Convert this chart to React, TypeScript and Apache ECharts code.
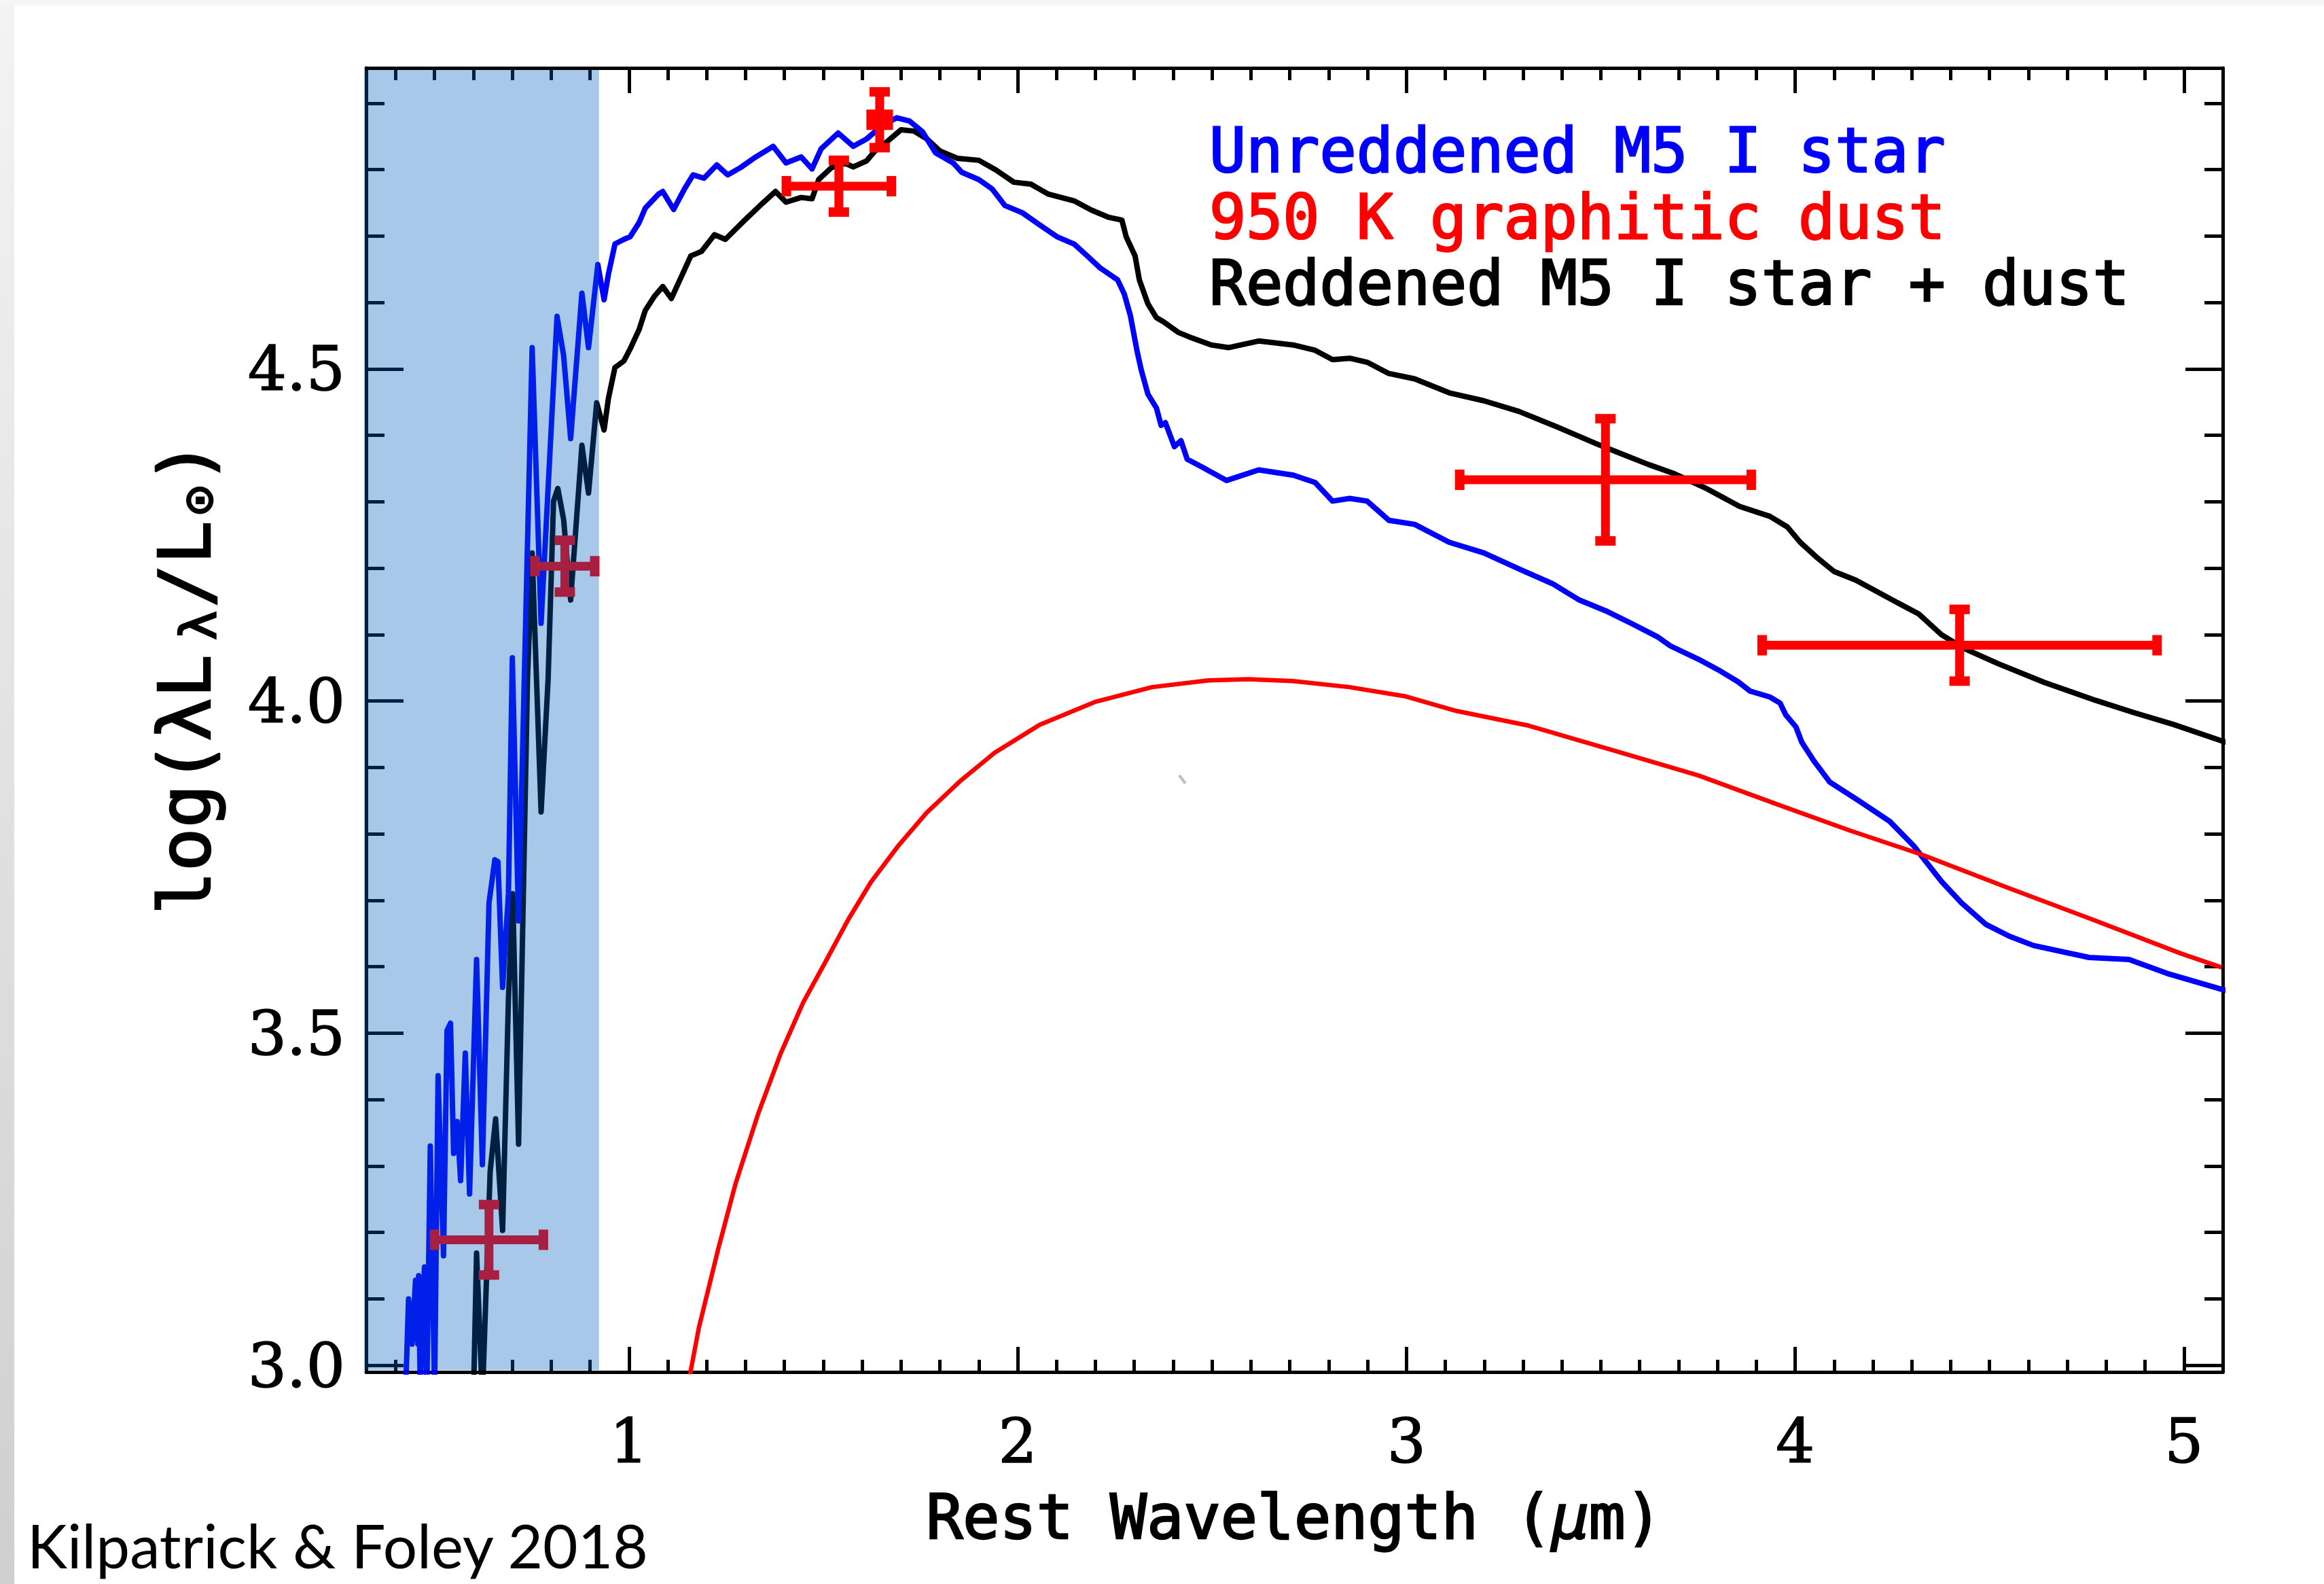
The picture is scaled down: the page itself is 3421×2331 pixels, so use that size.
import React, { useEffect, useRef } from 'react';
import * as echarts from 'echarts';

// ---- axis ranges and ticks ----
const X_MIN = 0.324;
const X_MAX = 5.1;
const Y_MIN = 2.99;
const Y_MAX = 4.953;
const X_MAJOR = [1, 2, 3, 4, 5];
const Y_MAJOR = [3.0, 3.5, 4.0, 4.5];
const X_MINOR_STEP = 0.1;
const Y_MINOR_STEP = 0.1;

// wavelength range covered by the shaded (blue) band
const SHADED_RANGE = [0.324, 0.923];

// ---- Unreddened M5 I star (blue) : [wavelength um, log L] ----
const UNREDDENED: [number, number][] = [
  [0.425, 2.95], [0.433, 3.1], [0.442, 3.032], [0.451, 3.128], [0.457, 3.032], [0.459, 3.135],
  [0.463, 2.97], [0.474, 3.148], [0.48, 2.96], [0.489, 3.33], [0.5, 2.96], [0.509, 3.436],
  [0.523, 3.165], [0.532, 3.504], [0.541, 3.515], [0.549, 3.319], [0.558, 3.367], [0.567, 3.278],
  [0.579, 3.47], [0.59, 3.258], [0.608, 3.611], [0.623, 3.302], [0.64, 3.696], [0.655, 3.761],
  [0.663, 3.758], [0.675, 3.569], [0.69, 3.71], [0.7, 4.065], [0.716, 3.669], [0.751, 4.532],
  [0.774, 4.117], [0.815, 4.579], [0.832, 4.52], [0.85, 4.395], [0.879, 4.614], [0.896, 4.532],
  [0.92, 4.657], [0.936, 4.604], [0.947, 4.642], [0.964, 4.688], [0.987, 4.695], [1.003, 4.699],
  [1.026, 4.72], [1.042, 4.742], [1.076, 4.763], [1.087, 4.767], [1.115, 4.74], [1.143, 4.771],
  [1.165, 4.792], [1.193, 4.787], [1.226, 4.807], [1.254, 4.792], [1.287, 4.803], [1.321, 4.817],
  [1.371, 4.835], [1.404, 4.81], [1.443, 4.819], [1.471, 4.801], [1.494, 4.831], [1.538, 4.855],
  [1.577, 4.835], [1.611, 4.846], [1.655, 4.868], [1.689, 4.878], [1.722, 4.873], [1.755, 4.857],
  [1.789, 4.825], [1.834, 4.81], [1.856, 4.796], [1.9, 4.785], [1.934, 4.771], [1.967, 4.746],
  [2.012, 4.735], [2.056, 4.717], [2.101, 4.699], [2.145, 4.688], [2.179, 4.67], [2.212, 4.652],
  [2.257, 4.634], [2.274, 4.613], [2.29, 4.58], [2.307, 4.527], [2.318, 4.498], [2.335, 4.462],
  [2.357, 4.441], [2.369, 4.415], [2.38, 4.419], [2.403, 4.383], [2.42, 4.392], [2.436, 4.364],
  [2.475, 4.352], [2.537, 4.332], [2.62, 4.348], [2.709, 4.34], [2.765, 4.329], [2.81, 4.301],
  [2.854, 4.305], [2.899, 4.301], [2.955, 4.272], [3.021, 4.266], [3.11, 4.239], [3.199, 4.223],
  [3.289, 4.199], [3.378, 4.176], [3.445, 4.152], [3.512, 4.136], [3.578, 4.117], [3.645, 4.097],
  [3.679, 4.083], [3.751, 4.063], [3.802, 4.047], [3.853, 4.029], [3.884, 4.015], [3.935, 4.006],
  [3.961, 3.997], [3.976, 3.979], [4.002, 3.961], [4.017, 3.938], [4.048, 3.91], [4.089, 3.878],
  [4.161, 3.851], [4.243, 3.819], [4.305, 3.782], [4.346, 3.751], [4.377, 3.728], [4.428, 3.696],
  [4.49, 3.664], [4.551, 3.646], [4.613, 3.632], [4.756, 3.614], [4.859, 3.611], [4.962, 3.589],
  [5.097, 3.566], [5.11, 3.564],
];

// ---- Reddened M5 I star + dust (black) ----
const REDDENED: [number, number][] = [
  [0.6, 2.95], [0.608, 3.169], [0.623, 2.95], [0.643, 3.292], [0.657, 3.371], [0.675, 3.203],
  [0.69, 3.552], [0.701, 3.71], [0.716, 3.333], [0.739, 4.032], [0.751, 4.223], [0.774, 3.833],
  [0.792, 4.032], [0.806, 4.301], [0.817, 4.32], [0.832, 4.273], [0.85, 4.152], [0.879, 4.385],
  [0.896, 4.313], [0.917, 4.449], [0.936, 4.408], [0.947, 4.455], [0.964, 4.502], [0.987, 4.512],
  [1.003, 4.53], [1.026, 4.559], [1.042, 4.588], [1.065, 4.609], [1.087, 4.624], [1.109, 4.606],
  [1.131, 4.634], [1.159, 4.67], [1.187, 4.677], [1.22, 4.702], [1.248, 4.695], [1.298, 4.724],
  [1.343, 4.749], [1.377, 4.767], [1.404, 4.751], [1.443, 4.758], [1.471, 4.756], [1.488, 4.785],
  [1.521, 4.803], [1.555, 4.81], [1.577, 4.804], [1.611, 4.813], [1.633, 4.828], [1.666, 4.843],
  [1.7, 4.86], [1.733, 4.858], [1.767, 4.846], [1.8, 4.828], [1.845, 4.817], [1.9, 4.814],
  [1.945, 4.799], [1.99, 4.781], [2.034, 4.778], [2.079, 4.763], [2.145, 4.753], [2.19, 4.739],
  [2.235, 4.728], [2.268, 4.724], [2.279, 4.699], [2.302, 4.67], [2.313, 4.634], [2.335, 4.598],
  [2.357, 4.577], [2.375, 4.571], [2.413, 4.555], [2.442, 4.548], [2.498, 4.536], [2.542, 4.532],
  [2.62, 4.542], [2.709, 4.536], [2.765, 4.528], [2.81, 4.514], [2.854, 4.516], [2.899, 4.51],
  [2.955, 4.493], [3.021, 4.485], [3.11, 4.464], [3.199, 4.452], [3.289, 4.436], [3.378, 4.415],
  [3.434, 4.401], [3.49, 4.387], [3.545, 4.374], [3.623, 4.356], [3.69, 4.342], [3.768, 4.321],
  [3.857, 4.293], [3.935, 4.278], [3.98, 4.262], [4.013, 4.239], [4.058, 4.215], [4.1, 4.195],
  [4.156, 4.182], [4.244, 4.154], [4.318, 4.131], [4.376, 4.1], [4.435, 4.079], [4.523, 4.056],
  [4.641, 4.028], [4.773, 4.001], [4.869, 3.983], [4.972, 3.965], [5.097, 3.94], [5.11, 3.938],
];

// ---- 950 K graphitic dust (red) ----
const DUST: [number, number][] = [
  [1.15, 2.97], [1.158, 2.989], [1.18, 3.057], [1.23, 3.176], [1.274, 3.273], [1.332, 3.378],
  [1.39, 3.469], [1.448, 3.546], [1.506, 3.608], [1.564, 3.671], [1.622, 3.727], [1.694, 3.783],
  [1.766, 3.832], [1.853, 3.88], [1.94, 3.922], [2.056, 3.964], [2.201, 3.999], [2.346, 4.021],
  [2.491, 4.031], [2.593, 4.033], [2.708, 4.03], [2.853, 4.021], [2.998, 4.007], [3.129, 3.985],
  [3.314, 3.963], [3.53, 3.926], [3.751, 3.888], [3.956, 3.844], [4.141, 3.805], [4.325, 3.769],
  [4.551, 3.718], [4.756, 3.673], [4.992, 3.62], [5.097, 3.599],
];

// ---- photometry with error bars ----
const PHOT_WAVE = [0.64, 0.835, 1.54, 1.645, 3.512, 4.423];
const PHOT_LOGL = [3.189, 4.203, 4.775, 4.875, 4.333, 4.084];
const PHOT_WAVE_ERR = [0.14, 0.077, 0.135, 0.022, 0.375, 0.508];
const PHOT_LOGL_ERR = [0.053, 0.039, 0.039, 0.042, 0.092, 0.054];

const SERIES_NAMES = ['Unreddened M5 I star', '950 K graphitic dust', 'Reddened M5 I star + dust'];
const SERIES_COLORS = ['#0000ff', '#ff0000', '#000000'];

function minorTicks(from: number, to: number, step: number, majors: number[]) {
  const out: number[] = [];
  const n0 = Math.ceil(from / step - 1e-9);
  for (let i = n0; i * step <= to + 1e-9; i++) {
    const v = Math.round(i * step * 1000) / 1000;
    if (!majors.some((m) => Math.abs(m - v) < 1e-6)) out.push(v);
  }
  return out;
}

const X_MINOR = minorTicks(0.4, X_MAX, X_MINOR_STEP, X_MAJOR);
const Y_MINOR = minorTicks(3.0, Y_MAX, Y_MINOR_STEP, Y_MAJOR);

const AXIS_W = 5;
const MONO = '"DejaVu Sans Mono", monospace';
const SERIF = '"DejaVu Serif", serif';
const TEXT_STROKE = 2.5;

function xAxis(position: 'top' | 'bottom', ticks: number[], len: number, showLine: boolean, labels: boolean) {
  return {
    type: 'value',
    position,
    min: X_MIN,
    max: X_MAX,
    axisLine: { show: showLine, onZero: false, lineStyle: { color: '#000', width: AXIS_W } },
    axisTick: { show: true, inside: true, length: len, customValues: ticks, lineStyle: { color: '#000', width: AXIS_W } },
    axisLabel: labels
      ? {
          show: true,
          customValues: ticks,
          formatter: (v: number) => String(Math.round(v)),
          fontFamily: SERIF,
          fontSize: 90,
          color: '#000',
          textBorderColor: '#000',
          textBorderWidth: 1.5,
          margin: 56,
        }
      : { show: false },
    splitLine: { show: false },
  };
}

function yAxis(position: 'left' | 'right', ticks: number[], len: number, showLine: boolean, labels: boolean) {
  return {
    type: 'value',
    position,
    min: Y_MIN,
    max: Y_MAX,
    axisLine: { show: showLine, onZero: false, lineStyle: { color: '#000', width: AXIS_W } },
    axisTick: { show: true, inside: true, length: len, customValues: ticks, lineStyle: { color: '#000', width: AXIS_W } },
    axisLabel: labels
      ? {
          show: true,
          customValues: ticks,
          formatter: (v: number) => v.toFixed(1),
          fontFamily: SERIF,
          fontSize: 90,
          color: '#000',
          textBorderColor: '#000',
          textBorderWidth: 1.5,
          margin: 31,
        }
      : { show: false },
    splitLine: { show: false },
  };
}

export default function App() {
  const ref = useRef<HTMLDivElement>(null);
  useEffect(() => {
    if (!ref.current) return;
    const chart = echarts.init(ref.current, null, { renderer: 'svg' });

    const errData = PHOT_WAVE.map((w, i) => [w, PHOT_LOGL[i], PHOT_WAVE_ERR[i], PHOT_LOGL_ERR[i]]);
    const monoStyle = (text: string, size: number, color: string) => ({
      text,
      fontFamily: MONO,
      fontSize: size,
      fill: color,
      stroke: color,
      lineWidth: TEXT_STROKE,
      align: 'left',
      verticalAlign: 'middle',
    });

    const option: any = {
      animation: false,
      backgroundColor: '#ffffff',
      grid: { left: 539, top: 100, width: 2733, height: 1919, containLabel: false, outerBoundsMode: 'none' },
      xAxis: [
        xAxis('bottom', X_MAJOR, 37, true, true),
        xAxis('bottom', X_MINOR, 18, false, false),
        xAxis('top', X_MAJOR, 37, true, false),
        xAxis('top', X_MINOR, 18, false, false),
      ],
      yAxis: [
        yAxis('left', Y_MAJOR, 55, true, true),
        yAxis('left', Y_MINOR, 27, false, false),
        yAxis('right', Y_MAJOR, 55, true, false),
        yAxis('right', Y_MINOR, 27, false, false),
      ],
      series: [
        {
          name: SERIES_NAMES[2],
          type: 'line',
          data: REDDENED,
          showSymbol: false,
          symbol: 'none',
          clip: true,
          z: 2,
          lineStyle: { color: SERIES_COLORS[2], width: 8, join: 'round' },
        },
        {
          name: SERIES_NAMES[0],
          type: 'line',
          data: UNREDDENED,
          showSymbol: false,
          symbol: 'none',
          clip: true,
          z: 3,
          lineStyle: { color: SERIES_COLORS[0], width: 8, join: 'round' },
        },
        {
          name: SERIES_NAMES[1],
          type: 'line',
          data: DUST,
          showSymbol: false,
          symbol: 'none',
          clip: true,
          z: 4,
          lineStyle: { color: SERIES_COLORS[1], width: 6.5, join: 'round' },
        },
        {
          name: 'Photometry',
          type: 'custom',
          z: 5,
          silent: true,
          encode: { x: 0, y: 1 },
          data: errData,
          renderItem: (params: any, api: any) => {
            const x = api.value(0), y = api.value(1), xe = api.value(2), ye = api.value(3);
            const c = api.coord([x, y]);
            const l = api.coord([x - xe, y]);
            const r = api.coord([x + xe, y]);
            const t = api.coord([x, y + ye]);
            const b = api.coord([x, y - ye]);
            const W = 13, CL = 30, CT = 14;
            const style = { fill: '#ff0000' };
            return {
              type: 'group',
              children: [
                { type: 'rect', shape: { x: l[0], y: c[1] - W / 2, width: r[0] - l[0], height: W }, style },
                { type: 'rect', shape: { x: c[0] - W / 2, y: t[1], width: W, height: b[1] - t[1] }, style },
                { type: 'rect', shape: { x: l[0] - CT / 2, y: c[1] - CL / 2, width: CT, height: CL }, style },
                { type: 'rect', shape: { x: r[0] - CT / 2, y: c[1] - CL / 2, width: CT, height: CL }, style },
                { type: 'rect', shape: { x: c[0] - CL / 2, y: t[1] - CT / 2, width: CL, height: CT }, style },
                { type: 'rect', shape: { x: c[0] - CL / 2, y: b[1] - CT / 2, width: CL, height: CT }, style },
              ],
            };
          },
        },
        {
          name: 'Shaded band',
          type: 'custom',
          z: 10,
          silent: true,
          encode: { x: [0, 1] },
          data: [[SHADED_RANGE[0], SHADED_RANGE[1]]],
          renderItem: (params: any, api: any) => {
            const p0 = api.coord([api.value(0), Y_MAX]);
            const p1 = api.coord([api.value(1), Y_MIN]);
            return {
              type: 'rect',
              shape: { x: p0[0] - 3, y: p0[1] + 3, width: p1[0] - p0[0] + 3, height: p1[1] - p0[1] - 6 },
              style: { fill: 'rgba(0,95,190,0.34)' },
            };
          },
        },
      ],
      graphic: [
        {
          type: 'rect',
          x: 0,
          y: 0,
          z: -10,
          shape: { width: 21, height: 2331 },
          style: {
            fill: new echarts.graphic.LinearGradient(0, 0, 0, 1, [
              { offset: 0, color: '#f3f3f3' },
              { offset: 1, color: '#cfcfcf' },
            ]),
          },
        },
        { type: 'rect', x: 0, y: 0, z: -10, shape: { width: 3421, height: 8 }, style: { fill: '#f6f6f6' } },
        { type: 'text', x: 1780, y: 221, style: monoStyle(SERIES_NAMES[0], 90, SERIES_COLORS[0]) },
        { type: 'text', x: 1780, y: 319, style: monoStyle(SERIES_NAMES[1], 90, SERIES_COLORS[1]) },
        { type: 'text', x: 1780, y: 416, style: monoStyle(SERIES_NAMES[2], 90, SERIES_COLORS[2]) },
        {
          type: 'text',
          x: 1905,
          y: 2232,
          style: {
            text: '{a|Rest Wavelength (}{i|μ}{a|m)}',
            align: 'center',
            verticalAlign: 'middle',
            fill: '#000',
            stroke: '#000',
            lineWidth: TEXT_STROKE,
            rich: {
              a: { fontFamily: MONO, fontSize: 90, fill: '#000', stroke: '#000', lineWidth: TEXT_STROKE },
              i: { fontFamily: MONO, fontSize: 90, fontStyle: 'italic', fill: '#000', stroke: '#000', lineWidth: TEXT_STROKE },
            },
          },
        },
        {
          type: 'group',
          x: 272,
          y: 994,
          rotation: Math.PI / 2,
          children: [
            { type: 'text', x: -352, y: 0, style: monoStyle('log(λL', 106, '#000') },
            { type: 'text', x: 52, y: 20, style: monoStyle('λ', 72, '#000') },
            { type: 'text', x: 100, y: 0, style: monoStyle('/L', 106, '#000') },
            { type: 'text', x: 236, y: 20, style: monoStyle('⊙', 72, '#000') },
            { type: 'text', x: 282, y: 0, style: monoStyle(')', 106, '#000') },
          ],
        },
        {
          type: 'text',
          x: 40,
          y: 2273,
          style: { text: 'Kilpatrick & Foley 2018', fontFamily: 'Lato', fontSize: 89, fill: '#000', align: 'left', verticalAlign: 'middle' },
        },
        { type: 'line', shape: { x1: 1736, y1: 1141, x2: 1745, y2: 1153 }, style: { stroke: '#bdbdbd', lineWidth: 4 } },
      ],
    };

    chart.setOption(option);
    return () => chart.dispose();
  }, []);

  return (
    <div
      ref={ref}
      style={{ position: 'fixed', left: 0, top: 0, width: 3421, height: 2331, background: '#ffffff' }}
    />
  );
}
